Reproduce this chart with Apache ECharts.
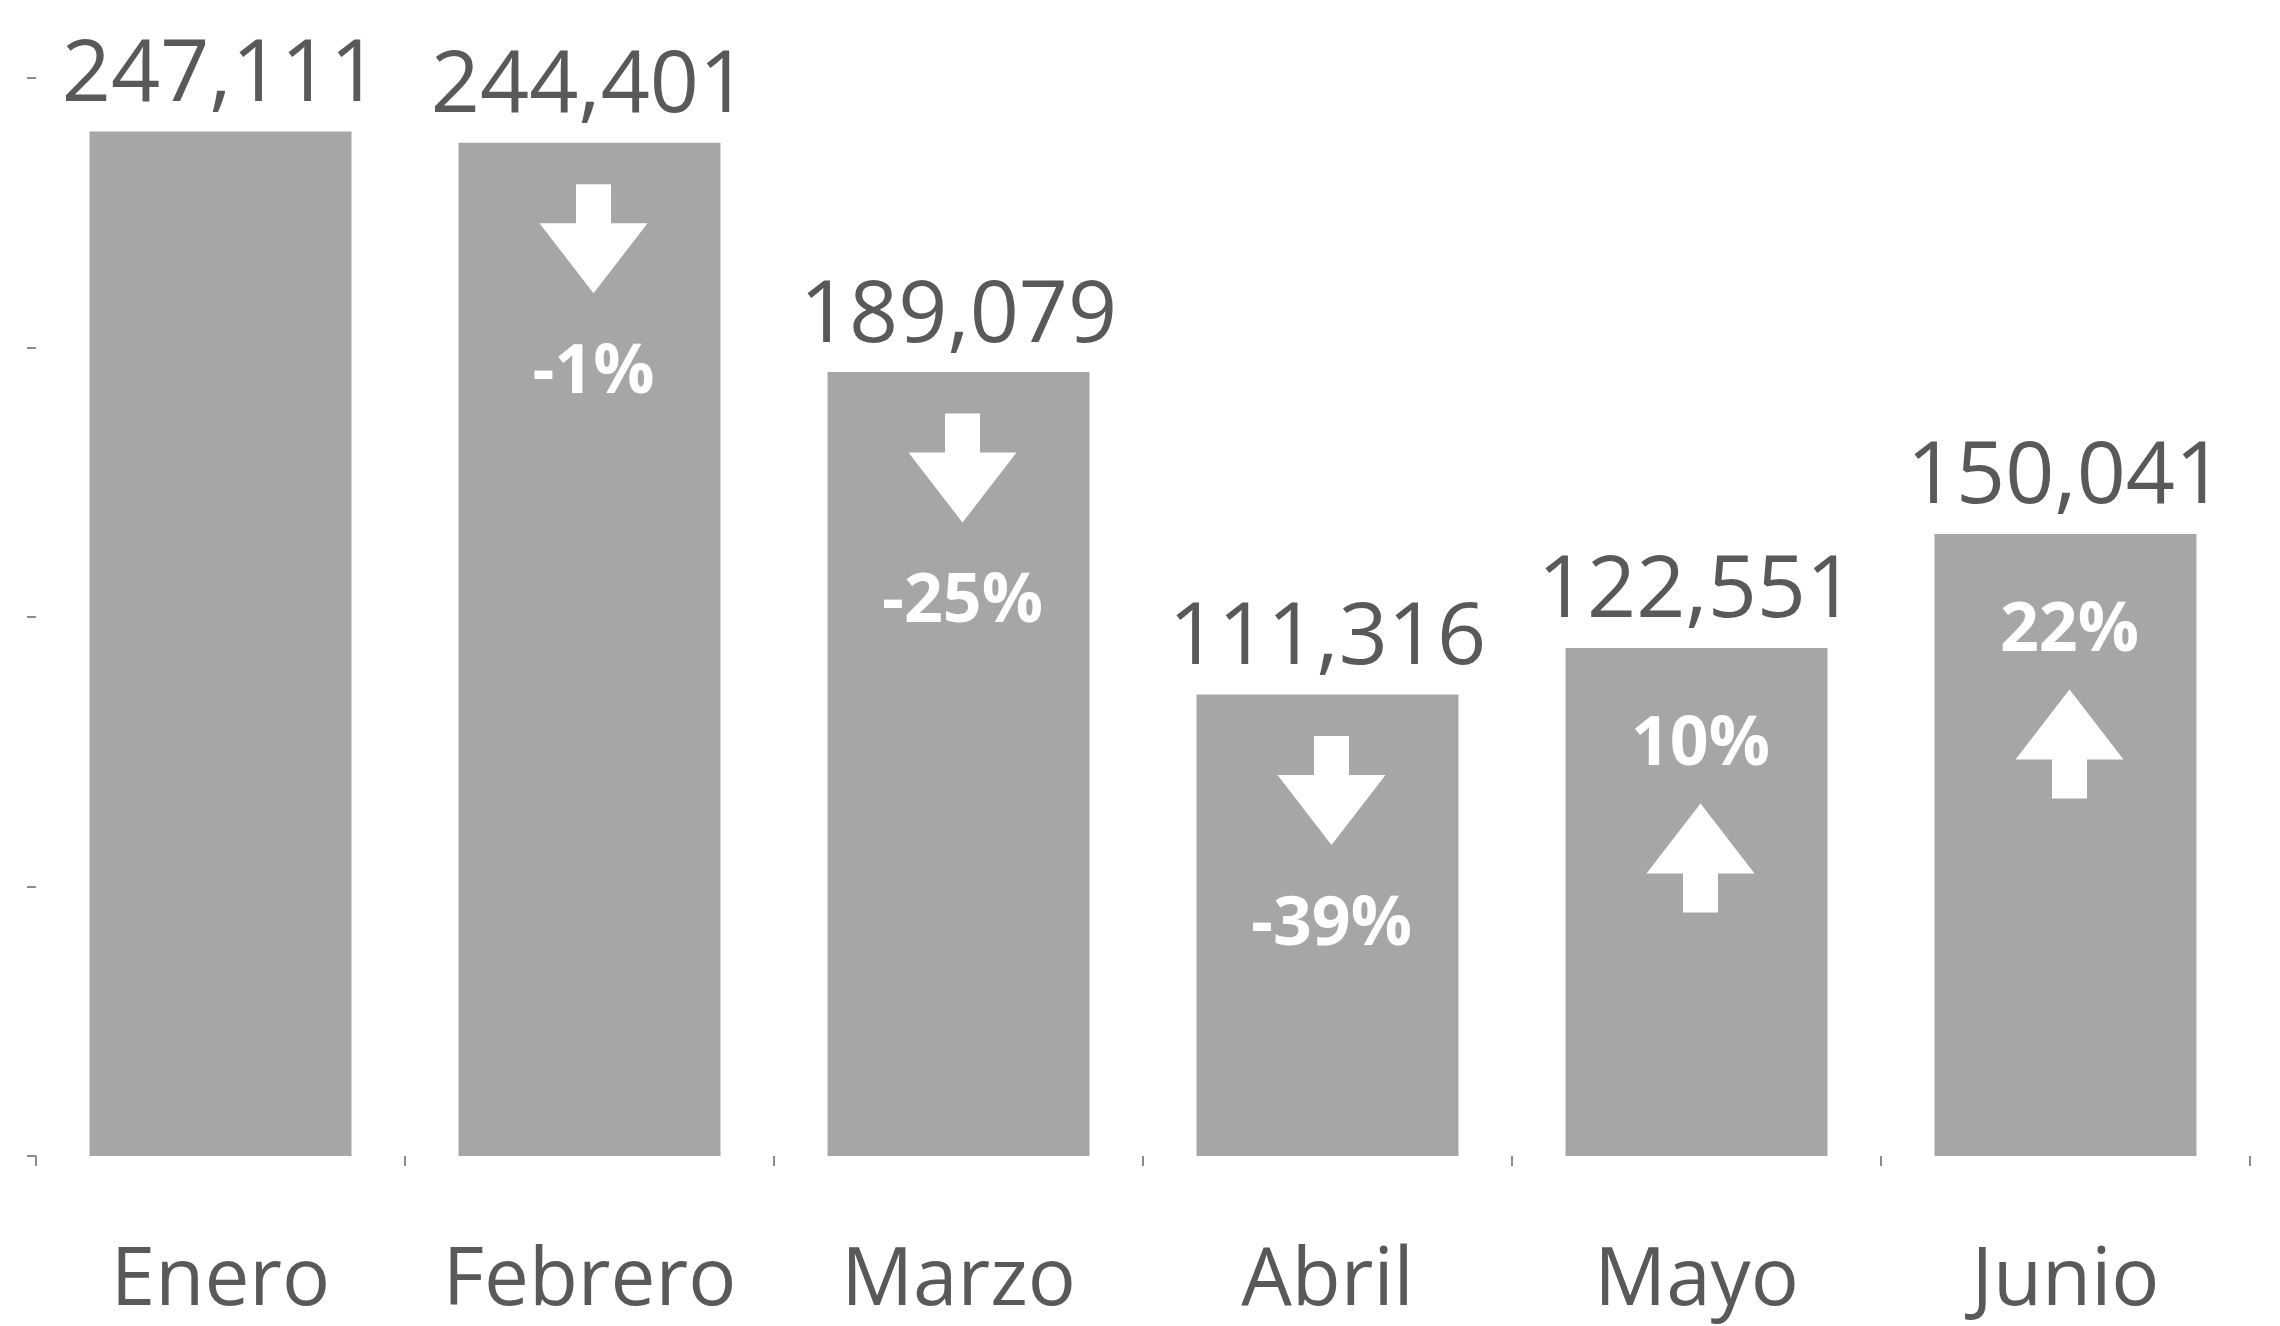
<!DOCTYPE html>
<html>
<head>
<meta charset="utf-8">
<script src="https://cdn.jsdelivr.net/npm/echarts@6/dist/echarts.min.js"></script>
<style>
  html, body { margin: 0; padding: 0; background: #fff; }
  #chart { width: 2280px; height: 1326px; }
</style>
</head>
<body>
<div id="chart"></div>
<script>
// datos
const months = ['Enero', 'Febrero', 'Marzo', 'Abril', 'Mayo', 'Junio']
const sales = [247111, 244401, 189079, 111316, 122551, 150041]
const changeLabels = [null, '-1%', '-25%', '-39%', '10%', '22%']
const trend = [null, 'down', 'down', 'down', 'up', 'up']
const yTicks = [0, 65000, 130000, 195000, 260000]

const TEXT = '#595959'
const BAR = '#A6A6A6'
const FONT = '"Open Sans", Lato, sans-serif'

const DOWN = 'path://M36.5 0 L71.5 0 L71.5 39 L108 39 L54 109 L0 39 L36.5 39 Z'
const UP = 'path://M54 0 L108 70 L71.5 70 L71.5 109 L36.5 109 L36.5 70 L0 70 Z'

// desplazamientos (px) desde el tope de la barra
const offsets = {
  down: { arrow: 96, text: 231 },
  up: { arrow: 210, text: 98 },
}

const arrowData = []
const pctData = []
months.forEach(function (m, i) {
  if (!trend[i]) return
  const o = offsets[trend[i]]
  arrowData.push({
    value: [i, sales[i]],
    symbol: trend[i] === 'down' ? DOWN : UP,
    symbolOffset: [4, o.arrow],
  })
  pctData.push({
    value: [i, sales[i]],
    label: { offset: [4, o.text], formatter: changeLabels[i] },
  })
})

const chart = echarts.init(document.getElementById('chart'))
chart.setOption({
  animation: false,
  backgroundColor: '#fff',
  grid: { left: 36, right: 30, top: 78, bottom: 170, containLabel: false },
  xAxis: {
    type: 'category',
    data: months,
    boundaryGap: true,
    axisLine: { show: false },
    axisTick: { show: true, interval: 0, length: 10, lineStyle: { color: '#8c8c8c', width: 2 } },
    axisLabel: {
      interval: 0,
      color: TEXT, fontFamily: FONT, fontSize: 80, lineHeight: 84, margin: 84,
    },
    splitLine: { show: false },
  },
  yAxis: {
    type: 'value',
    min: yTicks[0],
    max: yTicks[yTicks.length - 1],
    interval: yTicks[1] - yTicks[0],
    axisLine: { show: false },
    axisTick: { show: true, length: 9, lineStyle: { color: '#8c8c8c', width: 2 } },
    axisLabel: { show: false },
    splitLine: { show: false },
  },
  series: [
    {
      type: 'bar',
      data: sales,
      barCategoryGap: '29%',
      itemStyle: { color: BAR },
      label: {
        show: true,
        position: 'top',
        distance: 12,
        color: TEXT,
        fontFamily: FONT,
        fontSize: 86,
        lineHeight: 86,
        formatter: function (p) { return p.value.toLocaleString('en-US') },
      },
      z: 2,
    },
    {
      type: 'scatter',
      data: arrowData,
      symbolSize: [108, 109],
      itemStyle: { color: '#fff', opacity: 1 },
      z: 3,
    },
    {
      type: 'scatter',
      data: pctData,
      symbolSize: 1,
      itemStyle: { color: 'rgba(0,0,0,0)', opacity: 1 },
      label: {
        show: true,
        position: 'inside',
        color: '#fff',
        fontFamily: FONT,
        fontWeight: 'bold',
        fontSize: 68,
        lineHeight: 70,
      },
      z: 4,
    },
  ],
})
</script>
</body>
</html>
